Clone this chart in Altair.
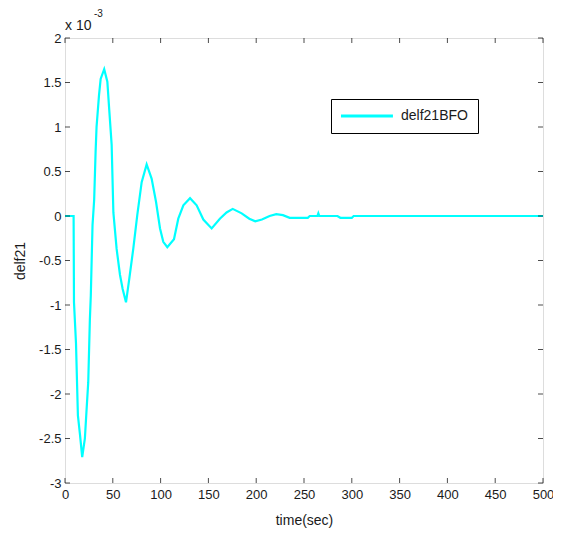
import altair as alt
import pandas as pd

# ---- data (values of delf21 in units of 1e-3) ----
time_sec = [0, 9, 9.4, 11.5, 13.5, 15.7, 18, 20.8, 22.6, 24.3, 26, 27, 28.8, 30.5,
            32, 33, 35.6, 37.3, 41, 44.3, 46.3, 48.8, 50.6, 54, 57.5, 60.3, 63.8,
            67.3, 71.4, 75.6, 80.2, 85.4, 90.6, 95.2, 99.4, 102.8, 107, 114, 118.5,
            123.8, 130.8, 137.7, 144.7, 153.4, 162, 169, 175.4, 184.8, 192.8, 199,
            206, 214, 221, 228, 235, 254, 256, 264, 265, 266, 285, 288, 300, 302, 500]
delf21 = [0, 0, -0.97, -1.43, -2.24, -2.46, -2.71, -2.50, -2.17, -1.87, -1.17, -0.89,
          -0.10, 0.18, 0.72, 1.00, 1.36, 1.54, 1.65, 1.51, 1.19, 0.80, 0.04, -0.37,
          -0.66, -0.82, -0.97, -0.70, -0.37, 0.01, 0.38, 0.58, 0.42, 0.16, -0.14,
          -0.29, -0.35, -0.26, -0.03, 0.12, 0.20, 0.12, -0.04, -0.14, -0.03, 0.04,
          0.08, 0.03, -0.03, -0.06, -0.04, 0.0, 0.02, 0.01, -0.02, -0.02, 0.0, 0.0,
          0.03, 0.0, 0.0, -0.02, -0.02, 0.0, 0.0]
series_name = "delf21BFO"
x_ticks = [0, 50, 100, 150, 200, 250, 300, 350, 400, 450, 500]
y_ticks = [-3, -2.5, -2, -1.5, -1, -0.5, 0, 0.5, 1, 1.5, 2]
exponent_base = "x 10"
exponent_power = "-3"

df = pd.DataFrame({"time": time_sec, "delf21": delf21, "series": series_name})
xt = pd.DataFrame({"v": x_ticks})
yt = pd.DataFrame({"v": y_ticks})

W, H = 478, 445
FONT = "Liberation Sans"
TXT = "#1a1a1a"

xs = alt.Scale(domain=[0, 500], nice=False)
ys = alt.Scale(domain=[-3, 2], nice=False)

line = alt.Chart(df).mark_line(strokeWidth=2.2, clip=True).encode(
    x=alt.X("time:Q", scale=xs,
            axis=alt.Axis(values=x_ticks, title="time(sec)", ticks=False, domain=False,
                          grid=False, labelPadding=5, titlePadding=12,
                          labelFontSize=13, titleFontSize=14, labelFont=FONT,
                          titleFont=FONT, labelColor=TXT, titleColor=TXT,
                          titleFontWeight="normal", labelFlush=False)),
    y=alt.Y("delf21:Q", scale=ys,
            axis=alt.Axis(values=y_ticks, title="delf21", ticks=False, domain=False,
                          grid=False, labelPadding=4, titlePadding=11,
                          labelExpr="'' + datum.value",
                          labelFontSize=13, titleFontSize=14, labelFont=FONT,
                          titleFont=FONT, labelColor=TXT, titleColor=TXT,
                          titleFontWeight="normal", labelFlush=False)),
    color=alt.Color("series:N", scale=alt.Scale(range=["#00FFFF"]),
                    legend=alt.Legend(title=None, orient="none", legendX=266, legendY=61,
                                      symbolType="M-1.35,0H8.65", symbolSize=108,
                                      symbolStrokeWidth=3, labelFont=FONT,
                                      labelFontSize=14, labelColor=TXT,
                                      labelOffset=46, padding=10, strokeColor="#000000",
                                      fillColor="#ffffff")),
)

tick_len = 5
xb = alt.Chart(xt).mark_tick(orient="vertical", size=tick_len, thickness=1, color="black").encode(
    x=alt.X("v:Q", scale=xs), y=alt.value(H - tick_len / 2))
xtop = alt.Chart(xt).mark_tick(orient="vertical", size=tick_len, thickness=1, color="black").encode(
    x=alt.X("v:Q", scale=xs), y=alt.value(tick_len / 2))
yl = alt.Chart(yt).mark_tick(orient="horizontal", size=tick_len, thickness=1, color="black").encode(
    y=alt.Y("v:Q", scale=ys), x=alt.value(tick_len / 2))
yr = alt.Chart(yt).mark_tick(orient="horizontal", size=tick_len, thickness=1, color="black").encode(
    y=alt.Y("v:Q", scale=ys), x=alt.value(W - tick_len / 2))

exp1 = alt.Chart(pd.DataFrame({"t": [exponent_base]})).mark_text(
    align="left", baseline="middle", font=FONT, fontSize=14, color=TXT).encode(
    text="t:N", x=alt.value(0), y=alt.value(-12))
exp2 = alt.Chart(pd.DataFrame({"t": [exponent_power]})).mark_text(
    align="left", baseline="middle", font=FONT, fontSize=10, color=TXT).encode(
    text="t:N", x=alt.value(29), y=alt.value(-24))

chart = alt.layer(line, xb, xtop, yl, yr, exp1, exp2).properties(
    width=W, height=H,
    autosize=alt.AutoSizeParams(type="none"),
    padding={"left": 57, "top": 30, "right": 10, "bottom": 50},
).configure_view(stroke="black", strokeWidth=1).configure(background="white")

chart.save("out.html", embed_options={"renderer": "svg", "actions": False})
